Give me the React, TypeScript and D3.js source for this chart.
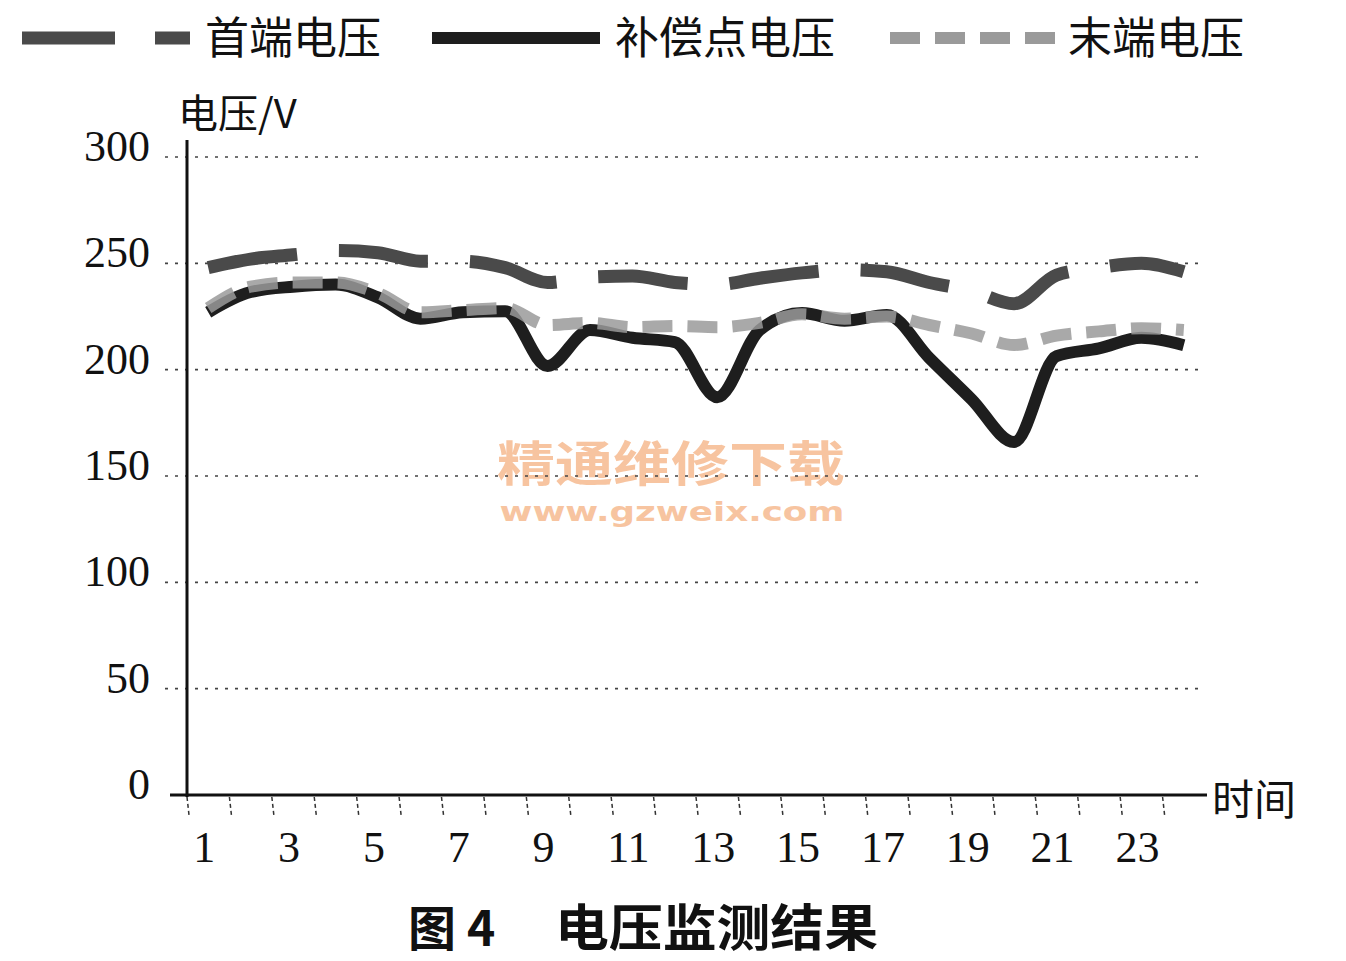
import React from "react";
import * as d3 from "d3";

const hours = d3.range(1, 25);
const xTickLabels = [1, 3, 5, 7, 9, 11, 13, 15, 17, 19, 21, 23];
const yTicks = [0, 50, 100, 150, 200, 250, 300];

const headVoltage = [248, 252, 254, 256, 255, 251, 251, 248, 241, 243.5, 244, 241, 240, 243, 245.5, 247, 246, 241, 237, 231, 244.5, 248, 250, 246];
const compVoltage = [227, 236.5, 239, 240, 234, 224, 227, 227.5, 201.7, 218.6, 215, 213, 187, 218.6, 226.6, 223, 225.7, 205.5, 186, 166, 206.4, 210, 215, 211.5];
const endVoltage = [229, 239, 241, 241, 236, 227, 228, 229, 221, 222, 220, 220.5, 220, 222, 226, 224, 225, 221, 217, 211.6, 216, 218, 219.5, 218.6];

const seriesNames = ["首端电压", "补偿点电压", "末端电压"];

const W = 1346;
const H = 961;
const serif = "'Liberation Serif', 'DejaVu Serif', serif";
const cjk = "'Noto Sans CJK SC', 'Noto Sans', sans-serif";

export default function App() {
  const x = d3.scaleBand<number>().domain(hours).range([187, 1205]).padding(0);
  const y = d3.scaleLinear().domain([0, 300]).range([795, 157]);
  const cx = (h: number) => (x(h) as number) + x.bandwidth() / 2;
  const line = d3
    .line<number>()
    .x((_, i) => cx(hours[i]))
    .y((v) => y(v))
    .curve(d3.curveMonotoneX);

  const styles = [
    { stroke: "#4a4a4a", width: 13, dash: "90 42" },
    { stroke: "#1e1e1e", width: 12, dash: "" },
    { stroke: "#9a9a9a", width: 12, dash: "30 15" },
  ];
  const data = [headVoltage, compVoltage, endVoltage];

  const legend = [
    { x1: 22, x2: 190, tx: 205 },
    { x1: 432, x2: 600, tx: 615 },
    { x1: 890, x2: 1060, tx: 1068 },
  ];

  return (
    <svg width={W} height={H} style={{ position: "absolute", left: 0, top: 0, background: "#fff" }}>
      <rect x={0} y={0} width={W} height={H} fill="#fff" />
      {/* watermark */}
      <text x={671} y={481} textAnchor="middle" fontFamily={cjk} fontWeight={700} fontSize={48} fill="#f7c4a0" textLength={348} lengthAdjust="spacingAndGlyphs">
        精通维修下载
      </text>
      <text x={672} y={521} textAnchor="middle" fontFamily="'DejaVu Sans', sans-serif" fontWeight={700} fontSize={26} fill="#f7c4a0" textLength={345} lengthAdjust="spacingAndGlyphs">
        www.gzweix.com
      </text>

      {/* legend */}
      {legend.map((l, i) => (
        <g key={i}>
          <line x1={l.x1} x2={l.x2} y1={38} y2={38} stroke={styles[i].stroke} strokeWidth={styles[i].width} strokeDasharray={i === 0 ? "93 40" : styles[i].dash} />
          <text x={l.tx} y={54} fontFamily={cjk} fontSize={44} fill="#111">
            {seriesNames[i]}
          </text>
        </g>
      ))}

      {/* y axis title */}
      <text x={178} y={128} fontFamily={cjk} fontSize={40} fill="#111">
        电压/V
      </text>

      {/* gridlines */}
      {yTicks.filter((t) => t > 0).map((t) => (
        <line key={t} x1={165} x2={1205} y1={y(t)} y2={y(t)} stroke="#444" strokeWidth={1.6} strokeDasharray="3 7" />
      ))}

      {/* y tick labels */}
      {yTicks.map((t) => (
        <text key={t} x={150} y={y(t) + 4} textAnchor="end" fontFamily={serif} fontSize={44} fill="#111">
          {t}
        </text>
      ))}

      {/* series */}
      {data.map((d, i) => (
        <path key={i} d={line(d) || ""} fill="none" stroke={styles[i].stroke} strokeWidth={styles[i].width} strokeDasharray={styles[i].dash} strokeLinejoin="round" opacity={i === 2 ? 0.85 : 1} />
      ))}

      {/* axes */}
      <line x1={187} x2={187} y1={140} y2={797} stroke="#111" strokeWidth={3} />
      <line x1={170} x2={1207} y1={795} y2={795} stroke="#111" strokeWidth={3} />
      {hours.map((h) => (
        <line key={h} x1={x(h) as number} x2={(x(h) as number) + 2} y1={797} y2={815} stroke="#333" strokeWidth={1.5} strokeDasharray="4 3" />
      ))}
      {xTickLabels.map((h) => (
        <text key={h} x={cx(h) - 4} y={862} textAnchor="middle" fontFamily={serif} fontSize={44} fill="#111">
          {h}
        </text>
      ))}
      <text x={1212} y={815} fontFamily={cjk} fontSize={42} fill="#111">
        时间
      </text>

      {/* caption */}
      <text x={408} y={946} fontFamily={cjk} fontWeight={700} fontSize={48} fill="#111">
        图 4
      </text>
      <text x={555} y={946} fontFamily={cjk} fontWeight={700} fontSize={50} fill="#111" textLength={323} lengthAdjust="spacingAndGlyphs">
        电压监测结果
      </text>
    </svg>
  );
}
